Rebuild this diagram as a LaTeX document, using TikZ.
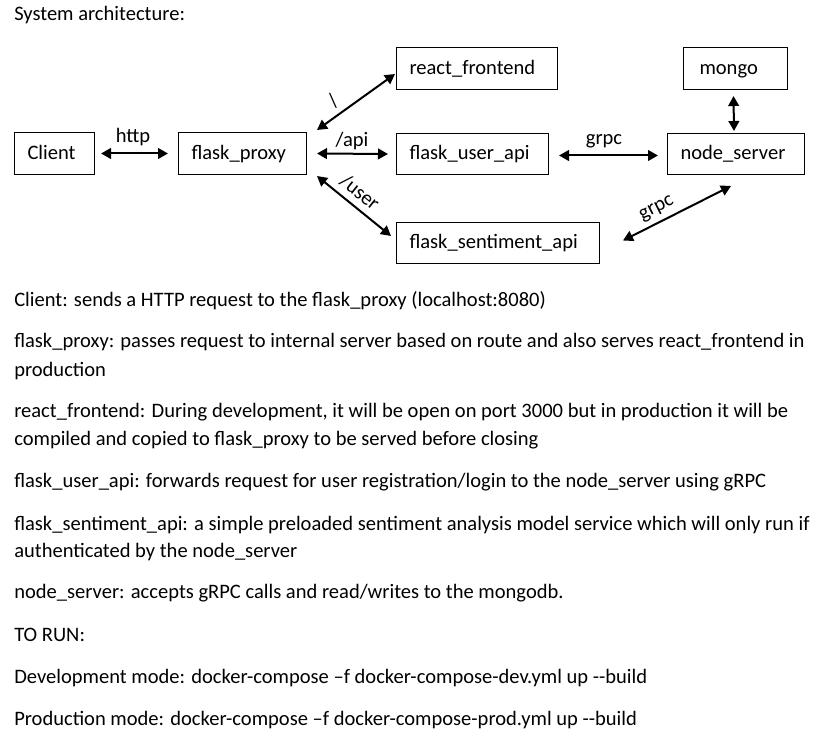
\documentclass[tikz,border=0pt]{standalone}
\usepackage{fontspec}
\setmainfont{Carlito}
\usetikzlibrary{arrows.meta}
\begin{document}
\begin{tikzpicture}[x=0.75pt,y=-0.75pt,
  font=\fontsize{15.4}{18}\selectfont,
  box/.style={draw, line width=0.75pt, anchor=north west, inner xsep=9.75pt, inner ysep=0pt,
    align=left, text height=10.5pt, text depth=1.5pt},
  txt/.style={anchor=base west, inner sep=0pt},
  lbl/.style={inner sep=0pt},
  arr/.style={{Triangle[length=7.5pt,width=8pt]}-{Triangle[length=7.5pt,width=8pt]}, line width=1.5pt}]
\useasboundingbox[fill=white] (0,0) rectangle (835,737);

% boxes
\node[box, minimum width=60pt, minimum height=31.5pt, text width=40.5pt] (client) at (14,132) {Client};
\node[box, minimum width=96pt, minimum height=31.5pt, text width=76.5pt] (proxy) at (178,132) {flask\_proxy};
\node[box, minimum width=120.75pt, minimum height=31.5pt, text width=101.25pt] (react) at (396,47) {react\_frontend};
\node[box, minimum width=114pt, minimum height=30.75pt, text width=94.5pt] (userapi) at (396,133) {flask\_user\_api};
\node[box, minimum width=152.25pt, minimum height=30.75pt, text width=132.75pt] (sent) at (396,222) {flask\_sentiment\_api};
\node[box, minimum width=78pt, minimum height=31.5pt, inner xsep=12pt, text width=54pt] (mongo) at (683,47) {mongo};
\node[box, minimum width=102.75pt, minimum height=30.75pt, text width=83.25pt] (nodes) at (667,133) {node\_server};

% connectors
\draw[arr] ([xshift=6*0.75pt]client.east) -- ([xshift=-10*0.75pt]proxy.west);
\draw[arr] ([shift={(10,-2)}]proxy.north east) -- ([shift={(-1,-16)}]react.south west);
\draw[arr] ([xshift=10*0.75pt]proxy.east) -- ([xshift=-8*0.75pt]userapi.west);
\draw[arr] ([shift={(10,1)}]proxy.south east) -- ([shift={(-5,-7)}]sent.west);
\draw[arr] ([shift={(10,1.5)}]userapi.east) -- ([shift={(-9,1.5)}]nodes.west);
\draw[arr] ([shift={(-2,6)}]mongo.south) -- ([shift={(-2,-2)}]nodes.north);
\draw[arr] ([shift={(-5,11)}]nodes.south) -- ([shift={(23,-2.5)}]sent.east);

% connector labels
\node[lbl, anchor=base] (lhttp) at (133,143) {http};
\node[lbl] (lslash) at (333,101) {\textbackslash};
\node[lbl, anchor=base] (lapi) at (352,147) {/api};
\node[lbl, rotate=-38.7] (luser) at (360,192) {/user};
\node[lbl, anchor=base] (lgrpc1) at (604,145) {grpc};
\node[lbl, rotate=27] (lgrpc2) at (657,209) {grpc};

% text
\node[txt] (l0) at (14,21) {System architecture:};
\node[txt] (l1) at (14,307) {Client: sends a HTTP request to the flask\_proxy (localhost:8080)};
\node[txt] (l2) at (14,348) {flask\_proxy: passes request to internal server based on route and also serves react\_frontend in};
\node[txt] (l3) at (14,377) {production};
\node[txt] (l4) at (14,418) {react\_frontend: During development, it will be open on port 3000 but in production it will be};
\node[txt] (l5) at (14,446) {compiled and copied to flask\_proxy to be served before closing};
\node[txt] (l6) at (14,488) {flask\_user\_api: forwards request for user registration/login to the node\_server using gRPC};
\node[txt] (l7) at (14,530) {flask\_sentiment\_api: a simple preloaded sentiment analysis model service which will only run if};
\node[txt] (l8) at (14,557) {authenticated by the node\_server};
\node[txt] (l9) at (14,598) {node\_server: accepts gRPC calls and read/writes to the mongodb.};
\node[txt] (l10) at (14,641) {TO RUN:};
\node[txt] (l11) at (14,683) {Development mode: docker-compose –f docker-compose-dev.yml up -{}-build};
\node[txt] (l12) at (14,725) {Production mode: docker-compose –f docker-compose-prod.yml up -{}-build};
\end{tikzpicture}
\end{document}
